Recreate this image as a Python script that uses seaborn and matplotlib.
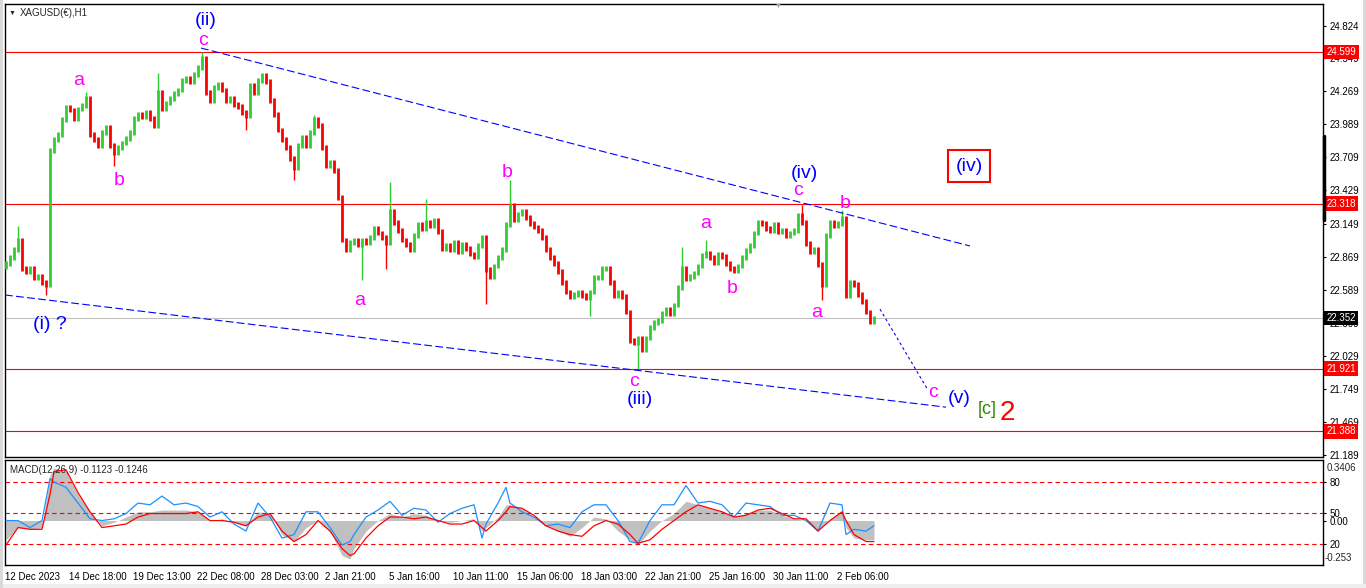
import matplotlib
matplotlib.use("Agg")
import matplotlib.pyplot as plt
from matplotlib.patches import Rectangle
from matplotlib.lines import Line2D
import seaborn as sns

W, H = 1366, 588

# XAGUSD H1 closes, sampled every 4 hours (bar index 0..217)
closes = [
    22.81, 22.86, 22.93, 23.01, 22.77, 22.74, 22.77, 22.69, 22.70, 22.65,
    22.63, 23.77, 23.86, 23.90, 24.03, 24.13, 24.11, 24.04, 24.12, 24.15,
    24.21, 23.90, 23.86, 23.81, 23.92, 23.96, 23.81, 23.75, 23.79, 23.83,
    23.87, 23.92, 24.04, 24.07, 24.05, 24.09, 24.04, 23.98, 24.26, 24.12,
    24.17, 24.21, 24.25, 24.28, 24.36, 24.38, 24.35, 24.41, 24.47, 24.55,
    24.26, 24.19, 24.30, 24.33, 24.28, 24.19, 24.21, 24.16, 24.14, 24.09,
    24.06, 24.32, 24.26, 24.36, 24.40, 24.35, 24.19, 24.07, 23.94, 23.86,
    23.79, 23.70, 23.62, 23.81, 23.88, 23.81, 23.92, 24.03, 23.98, 23.79,
    23.64, 23.67, 23.60, 23.37, 23.01, 22.93, 22.99, 23.01, 22.97, 23.01,
    22.99, 23.03, 23.11, 23.07, 23.03, 22.99, 23.25, 23.16, 23.09, 23.01,
    22.97, 22.93, 23.05, 23.14, 23.11, 23.16, 23.13, 23.18, 23.08, 22.94,
    22.96, 22.93, 22.99, 22.91, 22.97, 22.94, 22.89, 22.87, 22.96, 23.03,
    22.76, 22.70, 22.79, 22.86, 22.93, 23.14, 23.30, 23.18, 23.23, 23.25,
    23.20, 23.15, 23.12, 23.09, 23.03, 22.93, 22.86, 22.81, 22.74, 22.65,
    22.57, 22.53, 22.55, 22.57, 22.54, 22.52, 22.57, 22.69, 22.69, 22.77,
    22.77, 22.65, 22.54, 22.57, 22.53, 22.40, 22.16, 22.14, 22.18, 22.08,
    22.18, 22.27, 22.31, 22.33, 22.39, 22.42, 22.39, 22.46, 22.61, 22.77,
    22.68, 22.70, 22.73, 22.79, 22.88, 22.90, 22.86, 22.82, 22.89, 22.87,
    22.81, 22.77, 22.75, 22.79, 22.86, 22.92, 22.96, 23.07, 23.16, 23.15,
    23.11, 23.09, 23.14, 23.08, 23.09, 23.05, 23.07, 23.09, 23.22, 23.16,
    22.98, 22.91, 22.93, 22.80, 22.63, 23.05, 23.16, 23.13, 23.15, 23.19,
    22.54, 22.65, 22.63, 22.55, 22.49, 22.40, 22.32, 22.35,
]
first_open = 22.78

# long wicks (bar index, extreme price)
wick_idx = [3, 10, 20, 27, 38, 49, 60, 72, 77, 89, 95, 96, 105, 120, 126,
            146, 158, 169, 175, 199, 204, 209]
wick_val = [23.13, 22.54, 24.26, 23.64, 24.42, 24.60, 23.94, 23.52, 24.07,
            22.67, 22.76, 23.50, 23.36, 22.47, 23.52, 22.37, 21.92, 22.95,
            23.01, 23.31, 22.50, 23.26]

price_ticks = [24.824, 24.549, 24.269, 23.989, 23.709, 23.429, 23.149,
               22.869, 22.589, 22.309, 22.029, 21.749, 21.469, 21.189]
date_labels = ["12 Dec 2023", "14 Dec 18:00", "19 Dec 13:00", "22 Dec 08:00",
               "28 Dec 03:00", "2 Jan 21:00", "5 Jan 16:00", "10 Jan 11:00",
               "15 Jan 06:00", "18 Jan 03:00", "22 Jan 21:00", "25 Jan 16:00",
               "30 Jan 11:00", "2 Feb 06:00"]
date_pos = [-0.25, 15.75, 31.75, 47.75, 63.75, 79.75, 95.75, 111.75,
            127.75, 143.75, 159.75, 175.75, 191.75, 207.75]

red_levels = [24.599, 23.318, 21.921, 21.388]
last_price = 22.352

# trend lines (bar index, price)
upper_x = [48.75, 241.0]
upper_y = [24.635, 22.959]
lower_x = [-0.25, 235.0]
lower_y = [22.544, 21.594]
proj_x = [218.5, 230.5]
proj_y = [22.424, 21.738]

# wave labels
wave_text = ["(ii)", "c", "a", "b", "(i) ?", "a", "b", "c", "(iii)", "a", "b",
             "(iv)", "c", "b", "a", "c", "(v)", "[c]", "2"]
wave_x = [50.0, 49.25, 18.25, 28.25, 11.0, 88.5, 125.25, 157.0, 158.5, 175.0,
          181.5, 199.5, 198.0, 209.75, 202.75, 231.75, 238.25, 245.25, 250.25]
wave_y = [24.872, 24.703, 24.364, 23.517, 22.298, 22.501, 23.585, 21.815,
          21.662, 23.152, 22.602, 23.575, 23.425, 23.321, 22.399, 21.722,
          21.671, 21.578, 21.545]
wave_kind = ["w", "s", "s", "s", "w", "s", "s", "s", "w", "s", "s",
             "w", "s", "s", "s", "s", "w", "g", "r"]
box_label = "(iv)"
box_x, box_y = 240.75, 23.636

# MACD panel
macd_idx = [0, 3, 6, 9, 11, 12, 15, 18, 21, 24, 27, 30, 33, 36, 39, 42, 45,
            48, 51, 54, 57, 60, 63, 66, 69, 72, 75, 78, 81, 84, 86, 87, 90,
            93, 96, 99, 102, 105, 108, 111, 114, 117, 119, 120, 123, 125,
            126, 129, 132, 135, 138, 141, 144, 147, 150, 153, 156, 158, 161,
            164, 167, 170, 173, 176, 179, 182, 185, 188, 191, 194, 197, 200,
            203, 206, 209, 210, 212, 215, 217]
macd_hist = [-0.11, -0.04, -0.05, -0.04, 0.26, 0.30, 0.28, 0.15, 0.05, -0.03,
             -0.01, 0.02, 0.05, 0.05, 0.06, 0.06, 0.06, 0.05, 0.00, 0.01,
             -0.01, -0.03, 0.05, 0.04, -0.08, -0.12, -0.04, 0.00, -0.06, -0.20,
             -0.22, -0.16, -0.06, 0.00, 0.04, 0.02, 0.04, 0.03, 0.00, -0.01,
             0.00, 0.01, -0.06, -0.04, 0.02, 0.09, 0.09, 0.07, 0.02, -0.02,
             -0.06, -0.09, -0.04, 0.02, 0.01, -0.06, -0.11, -0.14, -0.06, 0.00,
             0.04, 0.11, 0.09, 0.07, 0.05, 0.02, 0.04, 0.06, 0.06, 0.03,
             0.01, 0.00, -0.06, 0.01, 0.05, -0.04, -0.10, -0.11, -0.11]
macd_signal = [-0.14, -0.04, -0.05, -0.05, 0.15, 0.28, 0.29, 0.16, 0.05, -0.04,
               -0.03, -0.02, 0.02, 0.04, 0.04, 0.04, 0.04, 0.05, 0.00, 0.00,
               -0.01, -0.03, 0.02, 0.04, -0.06, -0.12, -0.08, 0.00, -0.06, -0.16,
               -0.20, -0.19, -0.10, -0.03, 0.02, 0.02, 0.01, 0.02, 0.00, -0.02,
               -0.02, 0.00, -0.04, -0.06, 0.00, 0.05, 0.08, 0.07, 0.03, -0.03,
               -0.06, -0.08, -0.09, -0.03, 0.00, -0.02, -0.08, -0.13, -0.11, -0.05,
               0.00, 0.05, 0.09, 0.07, 0.05, 0.02, 0.03, 0.06, 0.07, 0.04,
               0.01, 0.01, -0.06, 0.00, 0.05, 0.00, -0.08, -0.12, -0.12]
macd_fast = [0.00, 0.00, -0.04, 0.00, 0.24, 0.22, 0.19, 0.10, 0.01, 0.00,
             0.01, 0.04, 0.10, 0.09, 0.14, 0.09, 0.10, 0.08, 0.02, 0.05,
             -0.02, -0.06, 0.10, 0.02, -0.10, -0.08, 0.05, 0.05, -0.04, -0.14,
             -0.12, -0.08, 0.02, 0.06, 0.11, 0.03, 0.07, 0.06, -0.01, 0.04,
             0.07, 0.09, -0.10, -0.02, 0.10, 0.19, 0.10, 0.05, 0.02, -0.03,
             -0.02, -0.04, 0.05, 0.09, 0.09, 0.00, -0.12, -0.13, 0.00, 0.09,
             0.09, 0.20, 0.10, 0.11, 0.09, 0.02, 0.10, 0.09, 0.08, 0.03,
             0.03, 0.00, -0.06, 0.10, 0.09, -0.08, -0.05, -0.06, -0.03]
macd_levels = [0.22, 0.043, 0.0, -0.134]
macd_level_labels = ["80", "50", "0.00", "20"]

sns.set_style("white")
plt.rcParams['font.family'] = ['Liberation Sans', 'DejaVu Sans']

fig = plt.figure(figsize=(W / 100, H / 100), dpi=100)


def box(x0, y0, x1, y1):
    return [x0 / W, 1 - y1 / H, (x1 - x0) / W, (y1 - y0) / H]


ax = fig.add_axes(box(5, 4, 1323, 457))
ax2 = fig.add_axes(box(5, 460, 1323, 565))
for a in (ax, ax2):
    a.set_xlim(-0.25, 329.25)
    for s in a.spines.values():
        s.set_color("black")
        s.set_linewidth(1)

ax.set_ylim(21.172, 25.008)
ax2.set_ylim(-0.254, 0.346)

# --- price bars
opens = [first_open] + closes[:-1]
idx = list(range(len(closes)))
cols = ["#32cd32" if c >= o else "#ff0000" for o, c in zip(opens, closes)]
lo = [min(o, c) - 0.02 for o, c in zip(opens, closes)]
hi = [max(o, c) + 0.02 for o, c in zip(opens, closes)]
ax.vlines(idx, lo, hi, colors=cols, linewidth=2.0, zorder=3)
ax.vlines(wick_idx,
          [min(closes[i], v) for i, v in zip(wick_idx, wick_val)],
          [max(closes[i], v) for i, v in zip(wick_idx, wick_val)],
          colors=[cols[i] for i in wick_idx], linewidth=1.0, zorder=3)

# --- levels
for v in red_levels:
    ax.axhline(v, color="#ff0000", lw=0.8, zorder=2)
ax.axhline(last_price, color="#c0c0c0", lw=0.8, zorder=1)

tr = ax.get_yaxis_transform()
for v in red_levels + [last_price]:
    fc = "black" if v == last_price else "#ff0000"
    ax.annotate(f"{v:.3f}", xy=(1, v), xycoords=tr, xytext=(2.6, 0),
                textcoords="offset points", ha="left", va="center",
                fontsize=7, color="white", annotation_clip=False, zorder=10,
                bbox=dict(boxstyle="square,pad=0.22", fc=fc, ec="none"))

# --- trend lines
sns.lineplot(x=upper_x, y=upper_y, ax=ax, color="#0000ff", lw=0.8, zorder=4)
ax.lines[-1].set_dashes([7, 3])
sns.lineplot(x=lower_x, y=lower_y, ax=ax, color="#0000ff", lw=0.8, zorder=4)
ax.lines[-1].set_dashes([7, 3])
sns.lineplot(x=proj_x, y=proj_y, ax=ax, color="#0000ff", lw=0.8, zorder=4)
ax.lines[-1].set_dashes([2.5, 2.5])

# --- wave labels
styles = {"w": ("#0000ff", 14), "s": ("#ff00ff", 14),
          "g": ("#2f8a00", 13), "r": ("#ff0000", 20)}
for t, x, y, k in zip(wave_text, wave_x, wave_y, wave_kind):
    c, s = styles[k]
    ax.text(x, y, t, color=c, fontsize=s, ha="center", va="center", zorder=6)
ax.text(box_x, box_y, box_label, color="#0000ff", fontsize=14, ha="center",
        va="center", zorder=6,
        bbox=dict(boxstyle="square,pad=0.4", fc="white", ec="#ff0000", lw=1.5))

ax.set_xticks([])
ax.yaxis.tick_right()
ax.set_yticks(price_ticks)
ax.set_yticklabels([f"{v:.3f}" for v in price_ticks])
ax.tick_params(axis="y", direction="out", length=2.5, width=0.8, pad=2,
               labelsize=7, colors="black")

# --- MACD panel
ax2.fill_between(macd_idx, 0, macd_hist, color="#c0c0c0", lw=0, zorder=1)
sns.lineplot(x=macd_idx, y=macd_fast, ax=ax2, color="#1e90ff", lw=0.9, zorder=3)
sns.lineplot(x=macd_idx, y=macd_signal, ax=ax2, color="#ff0000", lw=0.9, zorder=4)
for v in macd_levels[:2] + macd_levels[3:]:
    ax2.axhline(v, color="#ff0000", lw=0.8, ls=(0, (4, 3)), zorder=2)
ax2.yaxis.tick_right()
ax2.set_yticks(macd_levels)
ax2.set_yticklabels(macd_level_labels)
ax2.tick_params(axis="y", direction="out", length=2.5, width=0.8, pad=2,
                labelsize=7, colors="black")
tr2 = ax2.get_yaxis_transform()
ax2.text(1.0025, 0.30, "0.3406", transform=tr2, fontsize=7, va="center",
         ha="left")
ax2.text(1.0015, -0.214, "-0.253", transform=tr2, fontsize=7, va="center",
         ha="left")
ax2.set_xticks(date_pos)
ax2.set_xticklabels(date_labels, ha="left")
ax2.tick_params(axis="x", direction="out", length=3, width=0.8, pad=2,
                labelsize=7, colors="black")
ax2.set_xlabel("")
ax2.set_ylabel("")
ax.set_xlabel("")
ax.set_ylabel("")

# --- header texts and window frame
fig.text(12 / W, 1 - 13 / H, "\u25bc", fontsize=5, ha="center", va="center")
fig.text(20 / W, 1 - 13 / H, "XAGUSD(\u20ac),H1", fontsize=7, va="center")
fig.text(10 / W, 1 - 470 / H, "MACD(12,26,9) -0.1123 -0.1246", fontsize=7,
         va="center")
fig.text(778 / W, 1 - 6 / H, "\u25bc", fontsize=5, color="#a0a0a0",
         ha="center", va="center")
fig.add_artist(Line2D([1323.5 / W] * 2, [1 - 136 / H, 1 - 220 / H],
                      lw=2.5, color="black"))
fig.patches.append(Rectangle((1363 / W, 0), 3 / W, 1, transform=fig.transFigure,
                             fc="#d9d9d9", ec="none"))
fig.patches.append(Rectangle((0, 0), 1, 4 / H, transform=fig.transFigure,
                             fc="#eeeeee", ec="none"))
fig.patches.append(Rectangle((0, 0), 3 / W, 1, transform=fig.transFigure,
                             fc="#d9d9d9", ec="none"))

fig.savefig("out.png", dpi=100)
